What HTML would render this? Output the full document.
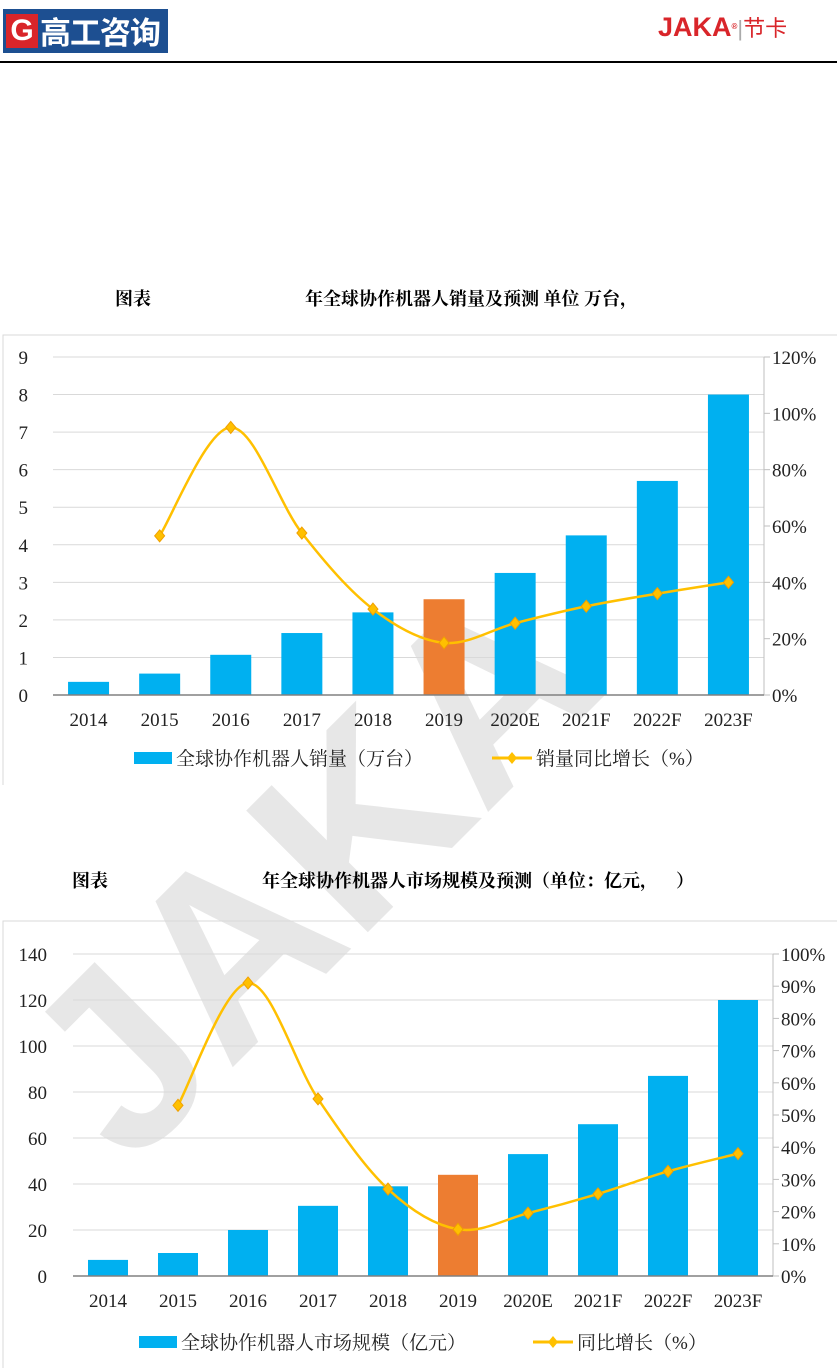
<!DOCTYPE html>
<html><head><meta charset="utf-8">
<style>
html,body{margin:0;padding:0;background:#fff;}
body{width:837px;height:1368px;position:relative;overflow:hidden;font-family:"Liberation Serif","Noto Serif CJK SC",serif;}
.abs{position:absolute;}
</style></head>
<body>
<div class="abs" style="left:3px;top:9px;width:165px;height:44px;background:#1d4f91;"></div>
<div class="abs" style="left:6px;top:14px;width:32px;height:34px;background:#d9252a;color:#fff;font:bold 30px 'Liberation Sans',sans-serif;text-align:center;line-height:34px;">G</div>
<div class="abs" style="left:40px;top:9px;color:#fff;font:bold 31px 'Noto Sans CJK SC',sans-serif;line-height:44px;letter-spacing:-1px;">高工咨询</div>
<div class="abs" style="left:658px;top:10px;color:#d9252a;font:bold 27px 'Liberation Sans','Noto Sans CJK SC',sans-serif;line-height:34px;">JAKA<span style="font-size:8px;vertical-align:top;">®</span><span style="color:#aaa;font-weight:normal;font-size:22px;">|</span><span style="font-size:22px;font-weight:normal;">节卡</span></div>
<div class="abs" style="left:0;top:61px;width:837px;height:2px;background:#000;"></div>

<div class="abs" style="left:115px;top:285px;font-size:18px;font-weight:bold;">图表</div>
<div class="abs" style="left:305px;top:285px;font-size:18px;font-weight:bold;white-space:pre;">年全球协作机器人销量及预测 单位 万台，</div>
<div class="abs" style="left:72px;top:867px;font-size:18px;font-weight:bold;">图表</div>
<div class="abs" style="left:262px;top:867px;font-size:18px;font-weight:bold;white-space:pre;">年全球协作机器人市场规模及预测（单位：亿元，    ）</div>

<svg class="abs" style="left:0;top:0" width="837" height="1368" id="svg">
<text x="130" y="1170" transform="rotate(-45 130 1170)" font-family="Liberation Sans,sans-serif" font-weight="bold" font-size="250" fill="#000" opacity="0.09">JAKA</text>
</svg>

<script>
const cats = ["2014","2015","2016","2017","2018","2019","2020E","2021F","2022F","2023F"];
const sales = [0.35,0.57,1.07,1.65,2.2,2.55,3.25,4.25,5.7,8.0];
const salesGrowth = [null,56.5,95,57.5,30.5,18.5,25.5,31.5,36,40];
const salesTicks = [0,1,2,3,4,5,6,7,8,9];
const salesPctTicks = [0,20,40,60,80,100,120];
const market = [7,10,20,30.5,39,44,53,66,87,120];
const marketGrowth = [null,53,91,55,27,14.5,19.5,25.5,32.5,38];
const marketTicks = [0,20,40,60,80,100,120,140];
const marketPctTicks = [0,10,20,30,40,50,60,70,80,90,100];

const NS="http://www.w3.org/2000/svg";
const svg=document.getElementById('svg');
function mk(tag,attrs,parent){const e=document.createElementNS(NS,tag);for(const k in attrs)e.setAttribute(k,attrs[k]);(parent||svg).appendChild(e);return e;}

function chart(o){
  const g=mk('g',{});
  
  
  const L=o.left,R=o.right,B=o.bottom,T=o.top;
  const step=(R-L)/cats.length;
  const xc=i=>L+step*(i+0.5);
  const yL=v=>B-(v/o.lmax)*(B-T);
  const yR=v=>B-(v/o.rmax)*(B-T);
  const fr=mk('path',{d:`M${o.fx},${o.fy2} V${o.fy} H837`,stroke:'#d9d9d9',fill:'none'},g);
  
  
  o.lticks.forEach(t=>{
    const y=yL(t);
    if(t>0){const gl=mk('line',{x1:L,x2:R,y1:y,y2:y,stroke:'#d9d9d9'},g);
    
    }
    const tx=mk('text',{x:o.lLabelX,y:y+7,'text-anchor':'end','font-size':19,fill:'#222'},g);
    tx.textContent=t;
    
    
  });
  const ra=mk('line',{x1:R,x2:R,y1:T,y2:B,stroke:'#bfbfbf'},g);
  
  
  o.rticks.forEach(t=>{
    const y=yR(t);
    mk('line',{x1:R,x2:R+6,y1:y,y2:y,stroke:'#bfbfbf'},g);
    const tx=mk('text',{x:R+8,y:y+7,'font-size':19,fill:'#222'},g);
    tx.textContent=t+'%';
    
    
  });
  o.bars.forEach((v,i)=>{
    const r=mk('rect',{x:xc(i)-o.bw/2,y:yL(v),width:o.bw,height:B-yL(v),fill:i===5?'#ed7d31':'#00b0f0'},g);
    
    
    const tx=mk('text',{x:xc(i),y:B+31,'text-anchor':'middle','font-size':19,fill:'#222'},g);
    tx.textContent=cats[i];
    
    
  });
  const xa=mk('line',{x1:L,x2:R,y1:B,y2:B,stroke:'#808080','stroke-width':1.5},g);
  
  
  const pts=[];o.line.forEach((v,i)=>{if(v!=null)pts.push([xc(i),yR(v)]);});
  let d=`M${pts[0][0]},${pts[0][1]}`;
  for(let i=0;i<pts.length-1;i++){
    const p0=pts[Math.max(0,i-1)],p1=pts[i],p2=pts[i+1],p3=pts[Math.min(pts.length-1,i+2)];
    const c1=[p1[0]+(p2[0]-p0[0])/6,p1[1]+(p2[1]-p0[1])/6];
    const c2=[p2[0]-(p3[0]-p1[0])/6,p2[1]-(p3[1]-p1[1])/6];
    d+=` C${c1[0]},${c1[1]} ${c2[0]},${c2[1]} ${p2[0]},${p2[1]}`;
  }
  const ln=mk('path',{d:d,stroke:'#ffc000','stroke-width':2.5,fill:'none'},g);
  
  
  pts.forEach(p=>{
    const m=mk('path',{d:`M${p[0]},${p[1]-6} L${p[0]+5},${p[1]} L${p[0]},${p[1]+6} L${p[0]-5},${p[1]}Z`,fill:'#ffc000',stroke:'#f0a000'},g);
    
    
  });
  const lr=mk('rect',{x:o.legX,y:o.legY-6,width:38,height:12,fill:'#00b0f0'},g);
  
  
  const lt=mk('text',{x:o.legX+42,y:o.legY+7,'font-size':19,fill:'#222'},g);
  lt.textContent=o.leg1;
  
  
  const ll=mk('line',{x1:o.leg2X,x2:o.leg2X+40,y1:o.legY,y2:o.legY,stroke:'#ffc000','stroke-width':3},g);
  
  
  const lx=o.leg2X+20;
  mk('path',{d:`M${lx},${o.legY-6} L${lx+5},${o.legY} L${lx},${o.legY+6} L${lx-5},${o.legY}Z`,fill:'#ffc000'},g);
  const lt2=mk('text',{x:o.leg2X+44,y:o.legY+7,'font-size':19,fill:'#222'},g);
  lt2.textContent=o.leg2;
  
  
}

chart({name:'sales-chart',left:53,right:764,top:357,bottom:695,lmax:9,rmax:120,lticks:salesTicks,rticks:salesPctTicks,
  bars:sales,line:salesGrowth,bw:41,lLabelX:28,fx:3,fy:335,fy2:785,
  legX:134,legY:758,leg1:'全球协作机器人销量（万台）',leg2X:492,leg2:'销量同比增长（%）'});
chart({name:'market-chart',left:73,right:773,top:954,bottom:1276,lmax:140,rmax:100,lticks:marketTicks,rticks:marketPctTicks,
  bars:market,line:marketGrowth,bw:40,lLabelX:47,fx:3,fy:921,fy2:1368,
  legX:139,legY:1342,leg1:'全球协作机器人市场规模（亿元）',leg2X:533,leg2:'同比增长（%）'});
</script>
</body></html>
